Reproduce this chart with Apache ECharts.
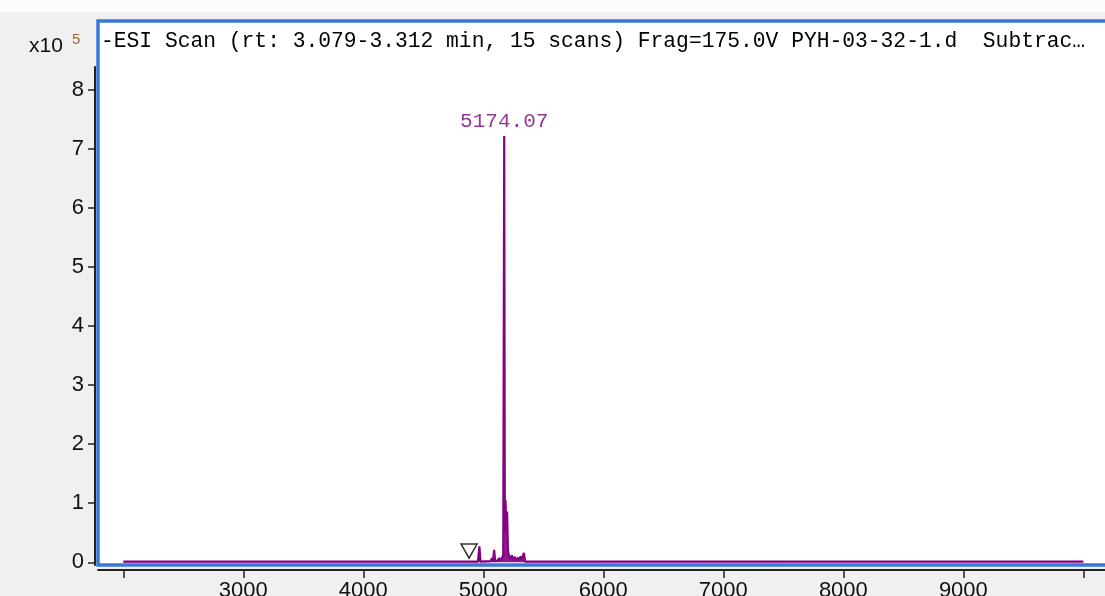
<!DOCTYPE html>
<html>
<head>
<meta charset="utf-8">
<script src="https://cdn.jsdelivr.net/npm/echarts@6/dist/echarts.min.js"></script>
<style>
html,body{margin:0;padding:0;background:#f0f0f0;}
#chart{width:1105px;height:596px;}
</style>
</head>
<body>
<div id="chart"></div>
<script>
// m/z values and intensities (x10^5)
const mz = [2000, 4520, 4530, 4540, 4860, 4872, 4884, 4955, 4967, 4976, 5060, 5072, 5080, 5090, 5099, 5118, 5132, 5146, 5160, 5166, 5174.07, 5179, 5185, 5191, 5198, 5205, 5214, 5226, 5238, 5246, 5262, 5272, 5288, 5298, 5310, 5320, 5338, 5348, 10000];
const intensity = [0.01, 0.01, 0.03, 0.01, 0.01, 0.04, 0.01, 0.01, 0.27, 0.01, 0.02, 0.07, 0.02, 0.21, 0.02, 0.03, 0.07, 0.03, 0.04, 0.12, 7.22, 0.5, 1.05, 0.55, 0.86, 0.2, 0.1, 0.06, 0.12, 0.04, 0.09, 0.03, 0.08, 0.03, 0.1, 0.04, 0.16, 0.01, 0.01];
// marker (hollow triangle) position
const markerMz = [4881];
const markerY = [0.19];
// axis ticks and labels
const xTickValues = [2000, 3000, 4000, 5000, 6000, 7000, 8000, 9000, 10000];
const xLabelValues = [3000, 4000, 5000, 6000, 7000, 8000, 9000];
const yTickValues = [0, 1, 2, 3, 4, 5, 6, 7, 8];
const titleText = '-ESI Scan (rt: 3.079-3.312 min, 15 scans) Frag=175.0V PYH-03-32-1.d  Subtrac\u2026';
const peakLabel = '5174.07';

const chart = echarts.init(document.getElementById('chart'), null, {renderer: 'canvas'});
let maxIdx = 0;
intensity.forEach((v, i) => { if (v > intensity[maxIdx]) maxIdx = i; });
const PURPLE = '#840084';
const BLUE = '#3a78d6';
const XMIN = 1789, XMAX = 10347;

const option = {
  animation: false,
  backgroundColor: {type: 'linear', x: 0, y: 0, x2: 0, y2: 1, colorStops: [
    {offset: 0, color: '#fbfbfb'}, {offset: 0.02, color: '#fbfbfb'},
    {offset: 0.0205, color: '#f0f0f0'}, {offset: 1, color: '#f0f0f0'}]},
  title: [
    {text: titleText, left: 101, top: 31, padding: 0,
     textStyle: {fontFamily: 'Liberation Mono', fontSize: 21.3, fontWeight: 'normal', color: '#000'}},
    {text: 'x10', left: 29, top: 36, padding: 0,
     textStyle: {fontFamily: 'Liberation Sans', fontSize: 21, fontWeight: 'normal', color: '#111'}},
    {text: '5', left: 72, top: 32, padding: 0,
     textStyle: {fontFamily: 'Liberation Sans', fontSize: 15, fontWeight: 'normal', color: '#9a6a30'}}
  ],
  grid: [
    {left: 98, top: 21, width: 1040, bottom: 31, show: true, backgroundColor: '#ffffff',
     borderColor: BLUE, borderWidth: 3.5, outerBoundsMode: 'none', containLabel: false},
    {left: 98, top: 67, width: 1027, bottom: 31, show: false, outerBoundsMode: 'none', containLabel: false}
  ],
  xAxis: [
    {gridIndex: 0, type: 'value', show: false, min: 0, max: 1},
    {gridIndex: 1, type: 'value', min: XMIN, max: XMAX, offset: 5,
     axisLine: {show: true, onZero: false, lineStyle: {color: '#222', width: 2}},
     axisTick: {show: true, length: 8, customValues: xTickValues, lineStyle: {color: '#222', width: 1.5}},
     axisLabel: {show: true, customValues: xLabelValues, margin: 10, color: '#111',
       fontFamily: 'Liberation Sans', fontSize: 22, formatter: v => String(v)},
     splitLine: {show: false}}
  ],
  yAxis: [
    {gridIndex: 0, type: 'value', show: false, min: 0, max: 1},
    {gridIndex: 1, type: 'value', min: -0.046, max: 8.389, offset: 3,
     axisLine: {show: true, onZero: false, lineStyle: {color: '#222', width: 2}},
     axisTick: {show: true, length: 7, customValues: yTickValues, lineStyle: {color: '#222', width: 1.5}},
     axisLabel: {show: true, customValues: yTickValues, margin: 11, color: '#111',
       fontFamily: 'Liberation Sans', fontSize: 22, formatter: v => String(v)},
     splitLine: {show: false}}
  ],
  series: [
    {type: 'line', xAxisIndex: 1, yAxisIndex: 1, data: mz.map((m, i) => [m, intensity[i]]),
     showSymbol: false, symbol: 'none',
     lineStyle: {color: PURPLE, width: 2.2}, itemStyle: {color: PURPLE},
     areaStyle: {color: PURPLE, opacity: 0.9}, z: 3},
    {type: 'scatter', xAxisIndex: 1, yAxisIndex: 1,
     data: [[mz[maxIdx], intensity[maxIdx]]], symbolSize: 0.1, itemStyle: {color: PURPLE},
     label: {show: true, position: 'top', distance: 4, formatter: peakLabel,
       color: '#7a007a', fontFamily: 'Liberation Mono', fontSize: 21}, z: 5},
    {type: 'scatter', xAxisIndex: 1, yAxisIndex: 1,
     data: markerMz.map((m, i) => [m, markerY[i]]),
     symbol: 'triangle', symbolRotate: 180, symbolSize: [16, 14],
     itemStyle: {color: '#ffffff', borderColor: '#000', borderWidth: 1.5}, z: 4}
  ]
};
chart.setOption(option);
</script>
</body>
</html>
